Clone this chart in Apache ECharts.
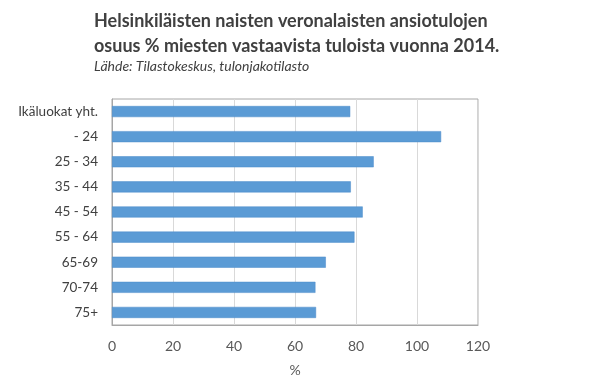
<!DOCTYPE html>
<html><head><meta charset="utf-8">
<script src="https://cdn.jsdelivr.net/npm/echarts@6/dist/echarts.min.js"></script>
<style>html,body{margin:0;padding:0;background:#fff}#c{width:600px;height:392px}</style>
</head><body><div id="c"></div>
<script>
const categories = ["Ikäluokat yht.", "- 24", "25 - 34", "35 - 44", "45 - 54", "55 - 64", "65-69", "70-74", "75+"];
const values = [78.1, 107.9, 85.8, 78.3, 82.2, 79.5, 70.1, 66.7, 66.9];
const xTicks = [0, 20, 40, 60, 80, 100, 120];
const titleText = "Helsinkiläisten naisten veronalaisten ansiotulojen\nosuus % miesten vastaavista tuloista vuonna 2014.";
const subText = "Lähde: Tilastokeskus, tulonjakotilasto";
const axisName = "%";

const chart = echarts.init(document.getElementById('c'), null, {renderer: 'canvas'});
const font = 'Lato, "Open Sans", sans-serif';
chart.setOption({
  animation: false,
  backgroundColor: '#fff',
  title: [{
    text: titleText,
    left: 89, top: 4,
    textStyle: {fontFamily: font, fontSize: 18, fontWeight: 'bold', color: '#404040', lineHeight: 25}
  }, {
    text: subText,
    left: 89, top: 54,
    textStyle: {fontFamily: font, fontSize: 14, fontStyle: 'italic', fontWeight: 'normal', color: '#404040'}
  }],
  grid: {left: 112, right: 122, top: 99, bottom: 67, show: true, borderColor: '#a6a6a6', borderWidth: 1, containLabel: false},
  xAxis: {
    type: 'value', min: xTicks[0], max: xTicks[xTicks.length - 1], interval: 20,
    name: axisName, nameLocation: 'middle', nameGap: 38,
    nameTextStyle: {fontFamily: font, fontSize: 14, color: '#595959'},
    axisLine: {show: true, lineStyle: {color: '#a6a6a6'}},
    axisTick: {show: false},
    axisLabel: {fontFamily: font, fontSize: 14, color: '#595959', margin: 14},
    splitLine: {show: true, lineStyle: {color: '#d9d9d9'}}
  },
  yAxis: {
    type: 'category', data: categories, inverse: true,
    axisLine: {show: true, lineStyle: {color: '#a6a6a6'}},
    axisTick: {show: false},
    axisLabel: {fontFamily: font, fontSize: 13.5, color: '#404040', margin: 14}
  },
  series: [{
    type: 'bar', data: values, barCategoryGap: '56%',
    itemStyle: {color: '#5b9bd5', borderColor: '#4a8acb', borderWidth: 0.5}
  }]
});
</script></body></html>
